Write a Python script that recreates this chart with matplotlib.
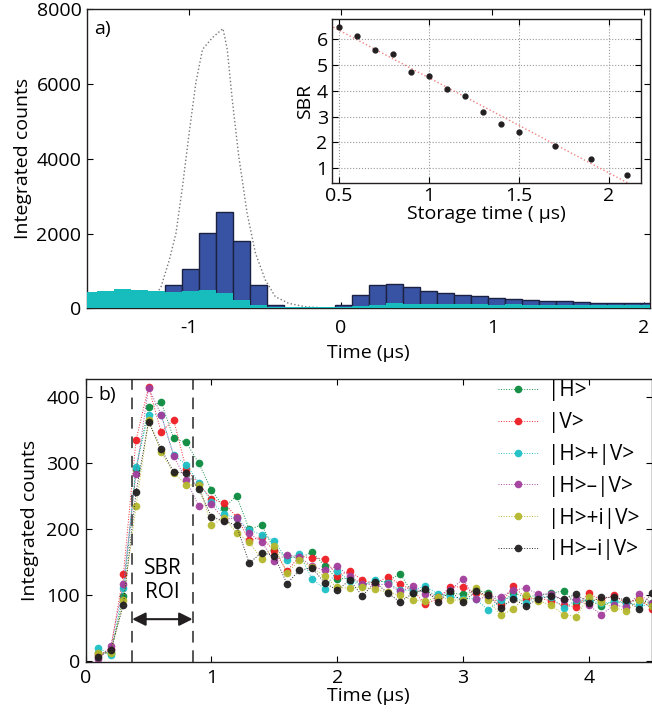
import numpy as np
import matplotlib
matplotlib.use("Agg")
import matplotlib.pyplot as plt

plt.rcParams['font.family'] = ['Open Sans', 'DejaVu Sans']
plt.rcParams['axes.unicode_minus'] = False
plt.rcParams['font.size'] = 14

# ---- panel a: histograms (counts per bin) ----
bin_width = 0.112
signal_start = -1.156
signal_counts = [625, 1058, 2020, 2575, 1800, 625, 80, 15, 15, 15,
                 80, 357, 617, 644, 571, 472, 410, 357, 330, 284,
                 249, 214, 196, 188, 178, 150, 134, 134, 130]
noise_start = -1.716
noise_counts = [446, 460, 510, 483, 464, 446, 464, 483, 410, 231,
                80, 27, 27, 27, 27, 30, 60, 100, 140, 120,
                120, 110, 120, 110, 100, 110, 100, 90, 90, 100,
                90, 90, 100, 100]

# input pulse (dotted trace)
pulse_t = [-1.25, -1.184, -1.130, -1.086, -1.043, -0.999, -0.955, -0.911, -0.846,
           -0.776, -0.748, -0.715, -0.672, -0.617, -0.562, -0.497, -0.431,
           -0.344, -0.234, -0.063, 2.1]
pulse_y = [150, 580, 1295, 2011, 3262, 4693, 6035, 6928, 7241,
           7483, 6928, 5587, 4066, 2548, 1475, 759, 311,
           134, 43, 0, 0]

# ---- inset: SBR vs storage time ----
storage_t = [0.5, 0.6, 0.7, 0.8, 0.9, 1.0, 1.1, 1.2, 1.3, 1.4, 1.5, 1.7, 1.9, 2.1]
sbr = [6.45, 6.10, 5.58, 5.40, 4.73, 4.58, 4.06, 3.79, 3.18, 2.73, 2.42, 1.88, 1.38, 0.75]

# ---- panel b: counts for the six polarisations ----
time_b = [0.1, 0.2, 0.3, 0.4, 0.5, 0.6, 0.7, 0.8, 0.9, 1.0,
          1.1, 1.2, 1.3, 1.4, 1.5, 1.6, 1.7, 1.8, 1.9, 2.0,
          2.1, 2.2, 2.3, 2.4, 2.5, 2.6, 2.7, 2.8, 2.9, 3.0,
          3.1, 3.2, 3.3, 3.4, 3.5, 3.6, 3.7, 3.8, 3.9, 4.0,
          4.1, 4.2, 4.3, 4.4, 4.5]
counts_H = [12, 12, 98, 290, 384, 392, 337, 331, 299, 259,
            232, 250, 199, 206, 168, 158, 155, 165, 144, 124,
            125, 115, 120, 120, 132, 102, 107, 98, 102, 101,
            107, 103, 87, 102, 97, 99, 102, 106, 87, 92,
            83, 90, 89, 92, 87]
counts_V = [8, 18, 131, 334, 415, 347, 365, 290, 268, 245,
            239, 218, 183, 187, 166, 136, 158, 156, 154, 129,
            136, 122, 117, 127, 116, 107, 86, 94, 112, 112,
            102, 99, 85, 114, 94, 95, 91, 84, 82, 102,
            92, 99, 87, 94, 79]
counts_D = [20, 8, 110, 294, 373, 373, 312, 297, 270, 241,
            222, 216, 198, 191, 182, 153, 162, 124, 109, 136,
            121, 114, 123, 118, 107, 107, 113, 101, 97, 94,
            94, 77, 92, 97, 88, 97, 97, 80, 92, 92,
            87, 89, 88, 84, 84]
counts_A = [3, 22, 116, 283, 414, 373, 310, 274, 234, 237,
            214, 217, 193, 180, 151, 161, 157, 143, 137, 143,
            128, 116, 115, 116, 105, 113, 101, 97, 107, 124,
            93, 97, 97, 107, 110, 101, 101, 92, 94, 84,
            70, 84, 82, 101, 87]
counts_R = [12, 12, 92, 234, 365, 316, 285, 266, 267, 205,
            217, 194, 180, 154, 174, 133, 152, 142, 128, 111,
            110, 112, 108, 104, 99, 92, 90, 97, 92, 92,
            110, 92, 69, 78, 99, 91, 84, 70, 67, 97,
            89, 80, 76, 92, 83]
counts_L = [6, 16, 85, 255, 362, 321, 286, 285, 260, 218,
            212, 205, 148, 164, 159, 117, 137, 141, 118, 107,
            122, 98, 119, 103, 89, 102, 109, 89, 105, 89,
            105, 99, 80, 94, 83, 94, 98, 93, 101, 88,
            96, 96, 92, 78, 102]
labels_b = ['|H>', '|V>', '|H>+|V>', '|H>\u2013|V>', '|H>+i|V>', '|H>\u2013i|V>']
colors_b = ['#0b8a3e', '#ee1c24', '#1cc0c6', '#a23d9c', '#b4b82c', '#231f20']
roi = [0.37, 0.85]

fig = plt.figure(figsize=(6.52, 7.13), dpi=100)


def matlab_box(ax, pad=4):
    ax.tick_params(direction='in', top=True, right=True, length=4,
                   labelsize=14, pad=pad)
    for s in ax.spines.values():
        s.set_linewidth(1.0)
        s.set_color('#231f20')


# panel a
ax1 = fig.add_axes([0.1334, 0.5676, 0.8635, 0.4194])
sig_left = signal_start + bin_width * np.arange(len(signal_counts))
noi_left = noise_start + bin_width * np.arange(len(noise_counts))
ax1.plot(pulse_t, pulse_y, ls=':', color='#777777', lw=1.0, zorder=1)
ax1.bar(sig_left, signal_counts, width=bin_width, align='edge',
        color='#3953a4', edgecolor='#1b2142', linewidth=1.0, zorder=2)
ax1.bar(noi_left, noise_counts, width=bin_width, align='edge',
        color='#17bcbc', edgecolor='none', zorder=3)
ax1.set_xlim(-1.673, 2.04)
ax1.set_ylim(0, 8000)
ax1.set_xticks([-1, 0, 1, 2])
ax1.set_yticks([0, 2000, 4000, 6000, 8000])
matlab_box(ax1)
ax1.tick_params(axis='x', pad=8)
ax1.set_xlabel('Time (\u03bcs)', fontsize=14, labelpad=5)
ax1.set_ylabel('Integrated counts', fontsize=14, labelpad=3)
ax1.text(0.012, 0.965, 'a)', transform=ax1.transAxes, fontsize=14, va='top')

# inset
ins = fig.add_axes([0.509, 0.7438, 0.474, 0.2292])
fit = np.polyfit(storage_t, sbr, 1)
fx = np.array([0.45, 2.2])
ins.plot(fx, np.polyval(fit, fx), ls=':', color='#f08080', lw=1.0)
ins.plot(storage_t, sbr, 'o', color='#231f20', ms=3.5)
ins.set_xlim(0.46, 2.18)
ins.set_ylim(0.45, 6.75)
ins.set_xticks([0.5, 1, 1.5, 2])
ins.set_xticklabels(['0.5', '1', '1.5', '2'])
ins.set_yticks([1, 2, 3, 4, 5, 6])
ins.grid(True, ls=':', color='#999999', lw=0.8)
matlab_box(ins, pad=3)
ins.set_xlabel('Storage time ( \u03bcs)', fontsize=14, labelpad=0)
ins.set_ylabel('SBR', fontsize=14, labelpad=2)

# panel b
ax2 = fig.add_axes([0.1314, 0.0711, 0.868, 0.3973])
series = [counts_H, counts_V, counts_D, counts_A, counts_R, counts_L]
for vals, lab, col in zip(series, labels_b, colors_b):
    ax2.plot(time_b, vals, ls=':', lw=0.7, color=col, marker='o', ms=5.5,
             markeredgewidth=0, label=lab, alpha=0.95)
for xr in roi:
    ax2.axvline(xr, color='#555555', ls=(0, (6, 4)), lw=1.4)
ax2.annotate('', xy=(roi[0], 63), xytext=(roi[1], 63),
             arrowprops=dict(arrowstyle='<|-|>', color='#231f20', lw=1.5,
                             mutation_scale=20, shrinkA=0, shrinkB=0))
ax2.text(np.mean(roi), 122, 'SBR\nROI', ha='center', va='center',
         fontsize=15, linespacing=1.2)
ax2.set_xlim(0, 4.5)
ax2.set_ylim(-2.4, 427)
ax2.set_xticks([0, 1, 2, 3, 4])
ax2.set_yticks([0, 100, 200, 300, 400])
matlab_box(ax2)
ax2.tick_params(axis='x', pad=5)
ax2.set_xlabel('Time (\u03bcs)', fontsize=14, labelpad=0)
ax2.set_ylabel('Integrated counts', fontsize=14, labelpad=5)
ax2.text(0.022, 0.975, 'b)', transform=ax2.transAxes, fontsize=14, va='top')
ax2.legend(loc='upper right', bbox_to_anchor=(1.0, 1.04), frameon=False,
           fontsize=15, handlelength=2.0, handletextpad=0.4, labelspacing=0.52,
           borderaxespad=0.2)

fig.savefig('out.png', dpi=100)
